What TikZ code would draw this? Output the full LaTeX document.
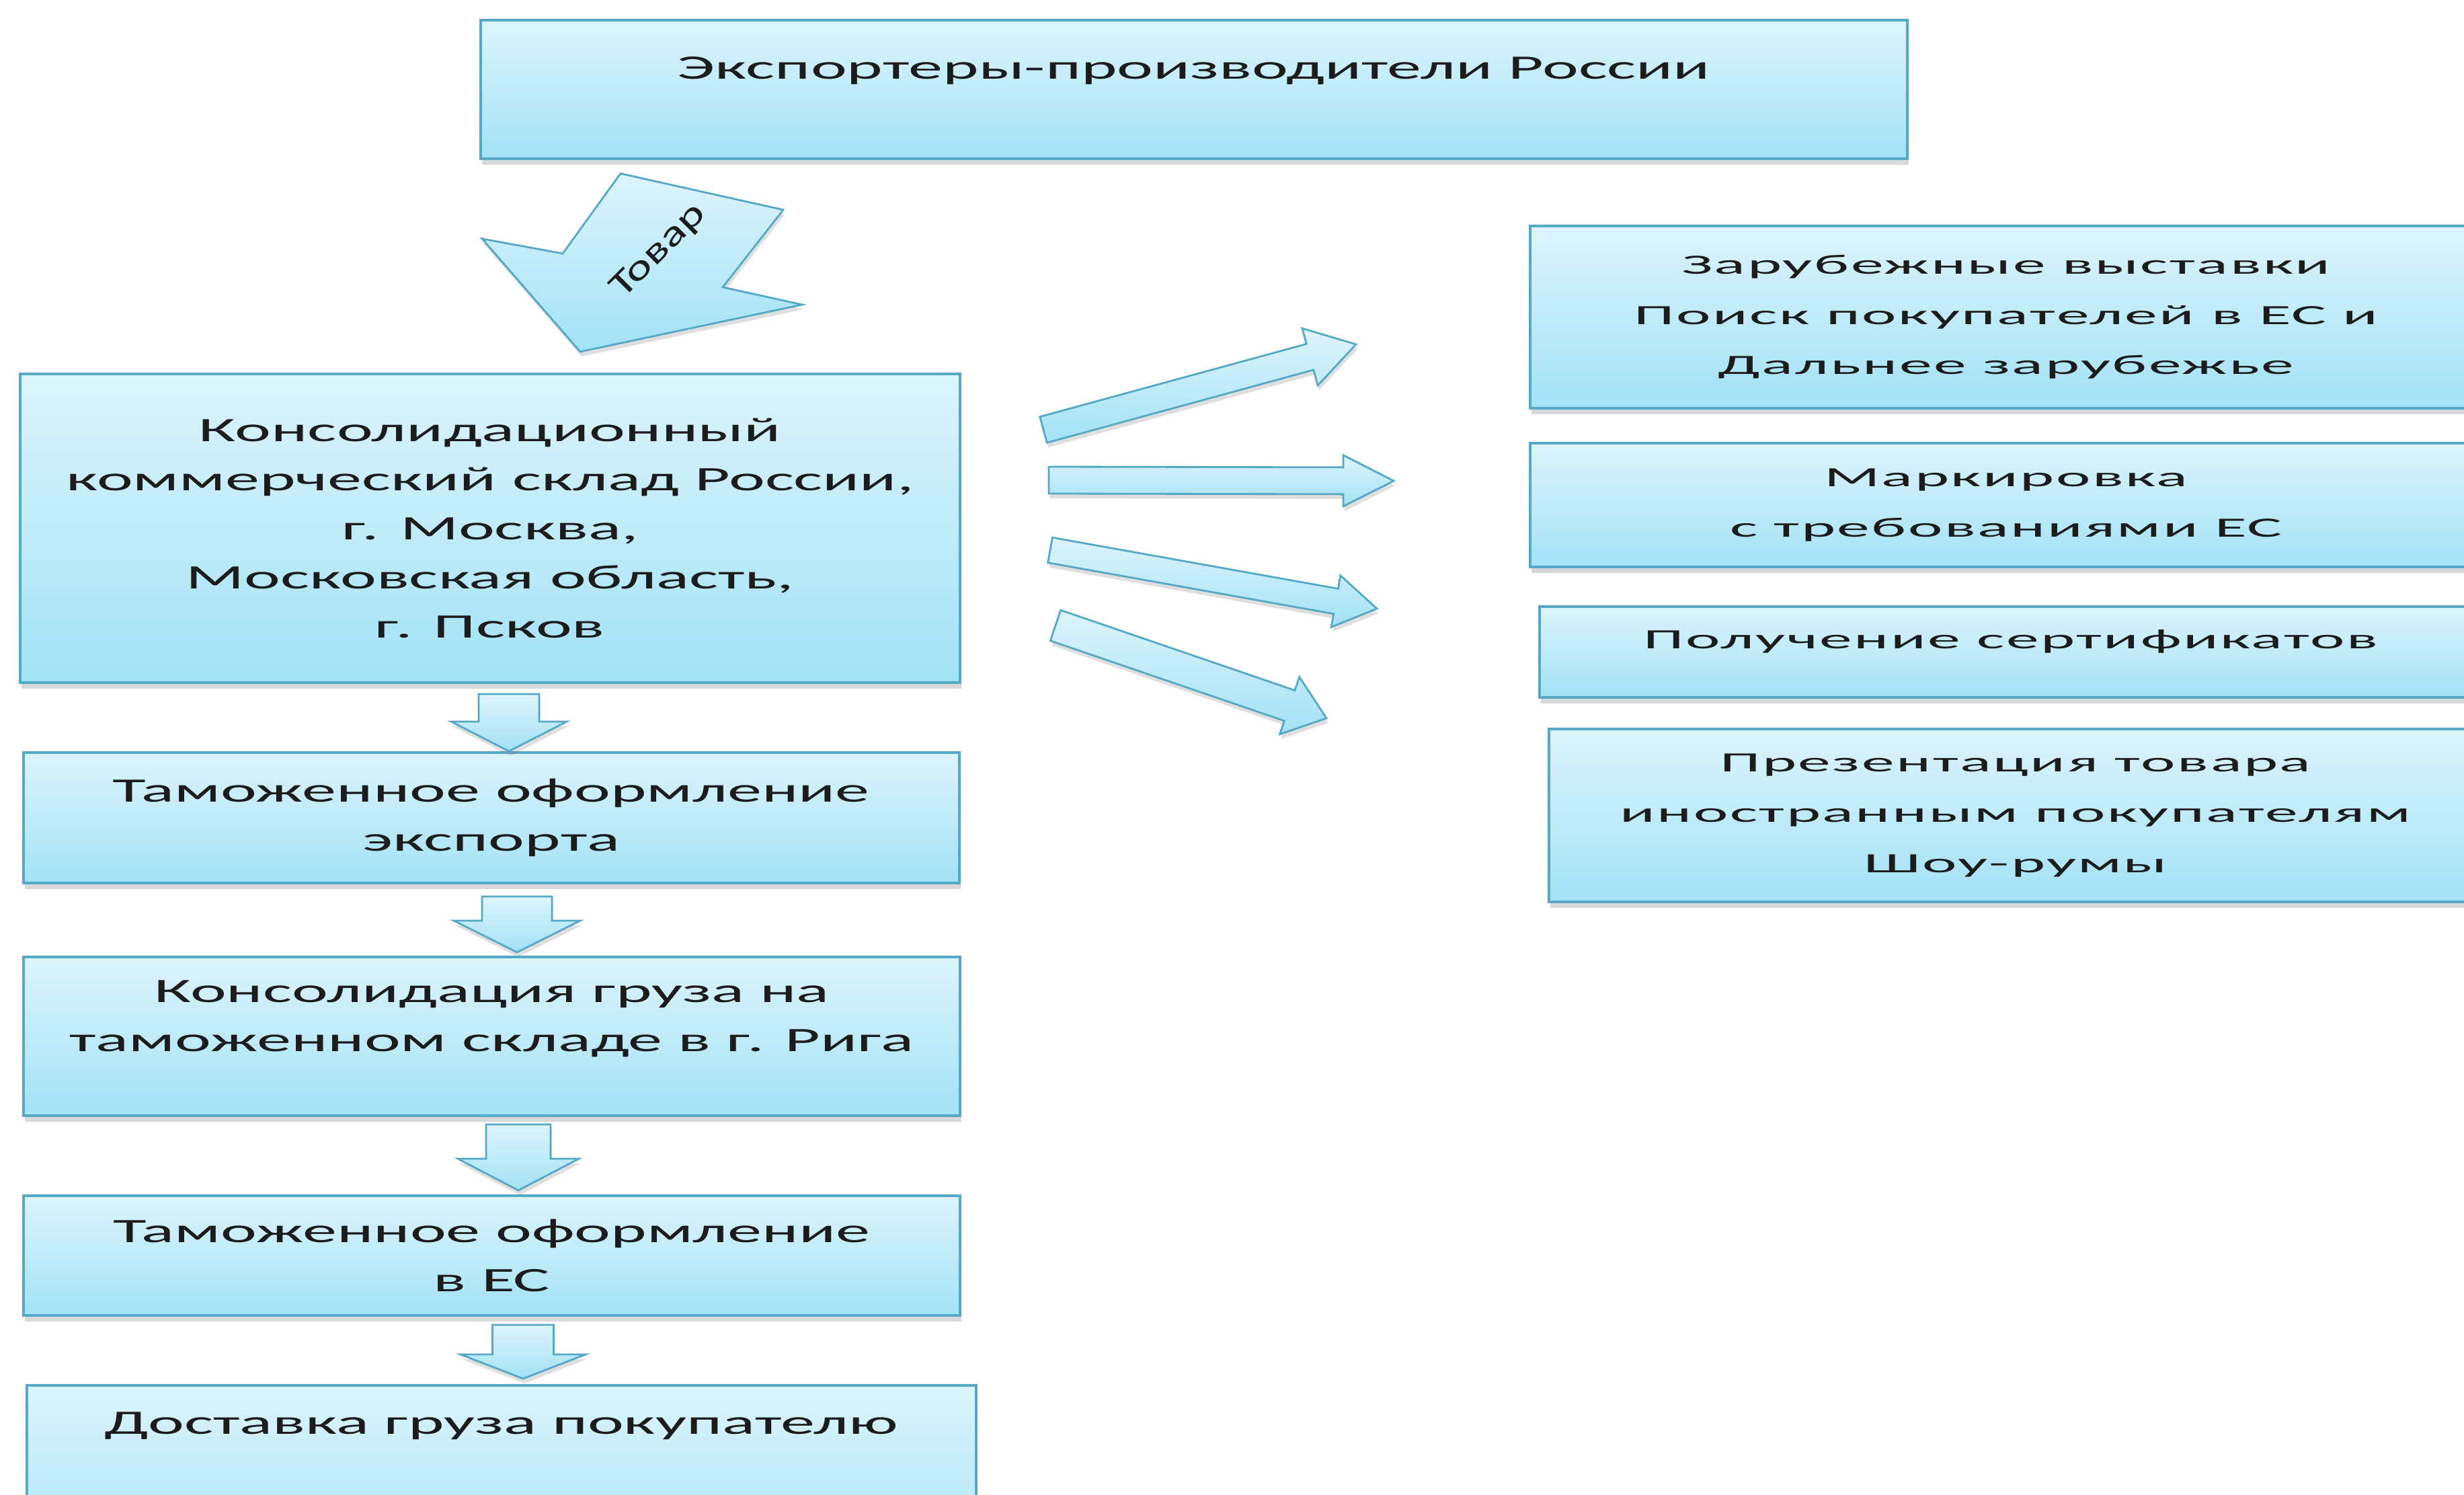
\documentclass[tikz,border=0pt]{standalone}
\usepackage{fontspec}
\setmainfont{Carlito}
\newfontfamily\widefont[FakeStretch=2.0]{Carlito}
\newfontfamily\widerfont[FakeStretch=2.35,LetterSpace=6]{Carlito}
\newfontfamily\goodsfont[FakeStretch=1.4]{Carlito}
\usetikzlibrary{calc,shadows}

\definecolor{boxtop}{HTML}{DDF4FC}
\definecolor{boxbot}{HTML}{A3E2F6}
\definecolor{boxline}{HTML}{56A9C6}
\definecolor{ink}{HTML}{1C1C1C}

% block arrow from (#1s) to (#1e): shaft half width, head half width, head length
\newcommand{\blockarrow}[4]{%
  \coordinate (#1j) at ($(#1e)!#4 cm!(#1s)$);
  \path[flowarrow] ($(#1s)!#2 cm!90:(#1e)$) -- ($(#1j)!#2 cm!90:(#1e)$)
    -- ($(#1j)!#3 cm!90:(#1e)$) -- (#1e) -- ($(#1j)!#3 cm!-90:(#1e)$)
    -- ($(#1j)!#2 cm!-90:(#1e)$) -- ($(#1s)!#2 cm!-90:(#1e)$) -- cycle;
}

\begin{document}
\begin{tikzpicture}[
    box/.style={draw=boxline, line width=1pt, top color=boxtop, bottom color=boxbot,
      drop shadow={shadow xshift=0.6pt, shadow yshift=-2.5pt, opacity=0.3},
      anchor=north west, align=center, inner sep=0pt, text=ink,
      font=\widefont\fontsize{14.5}{20.8}\selectfont},
    rbox/.style={box, font=\widerfont\fontsize{11.8}{21.3}\selectfont},
    flowarrow/.style={draw=boxline, line width=0.8pt, top color=boxtop, bottom color=boxbot,
      drop shadow={shadow xshift=0.6pt, shadow yshift=-2pt, opacity=0.25}}
  ]
    \useasboundingbox (0,0) rectangle (36.65,-22.23);
    \fill[white] (0,0) rectangle (36.65,-22.23);
    \clip (0,0) rectangle (36.65,-22.23);

    % top
    \node[box, minimum width=21.22cm, minimum height=2.06cm, text depth=0.64cm] (export) at (7.13,-0.28) {Экспортеры-производители России};

    % left column
    \node[box, minimum width=13.98cm, minimum height=4.59cm] (warehouse) at (0.28,-5.54)
      {Консолидационный\\коммерческий склад России,\\г. Москва,\\Московская область,\\г. Псков};
    \node[box, minimum width=13.92cm, minimum height=1.94cm] (clearexp) at (0.33,-11.17)
      {Таможенное оформление\\экспорта};
    \node[box, minimum width=13.93cm, minimum height=2.36cm, text depth=0.6cm] (riga) at (0.33,-14.21)
      {Консолидация груза на\\таможенном складе в г. Рига};
    \node[box, minimum width=13.93cm, minimum height=1.78cm] (cleareu) at (0.33,-17.76)
      {Таможенное оформление\\в ЕС};
    \node[box, minimum width=14.12cm, minimum height=3.0cm, text depth=1.88cm] (delivery) at (0.38,-20.58)
      {Доставка груза покупателю};

    % right column
    \node[rbox, minimum width=14.16cm, minimum height=2.71cm] (fairs) at (22.74,-3.34)
      {Зарубежные выставки\\Поиск покупателей в ЕС и\\Дальнее зарубежье};
    \node[rbox, minimum width=14.16cm, minimum height=1.84cm] (marking) at (22.74,-6.57)
      {Маркировка\\с требованиями ЕС};
    \node[rbox, minimum width=14.02cm, minimum height=1.35cm, text depth=0.38cm] (certs) at (22.88,-9.00)
      {Получение сертификатов};
    \node[rbox, minimum width=13.88cm, minimum height=2.57cm] (showroom) at (23.02,-10.82)
      {Презентация товара\\иностранным покупателям\\Шоу-румы};

    % goods arrow
    \path[flowarrow] (9.23,-2.58) -- (8.37,-3.77) -- (7.17,-3.55) -- (8.63,-5.23)
      -- (11.93,-4.53) -- (10.75,-4.27) -- (11.65,-3.12) -- cycle;
    \node[rotate=45, text=ink, font=\goodsfont\fontsize{15}{17}\selectfont] (goods) at (9.80,-3.74) {Товар};

    % down arrows
    \coordinate (d1s) at (7.57,-10.32); \coordinate (d1e) at (7.57,-11.17);
    \coordinate (d2s) at (7.69,-13.33); \coordinate (d2e) at (7.69,-14.16);
    \coordinate (d3s) at (7.71,-16.72); \coordinate (d3e) at (7.71,-17.70);
    \coordinate (d4s) at (7.78,-19.70); \coordinate (d4e) at (7.78,-20.50);
    \blockarrow{d1}{0.45}{0.86}{0.44}
    \blockarrow{d2}{0.52}{0.94}{0.47}
    \blockarrow{d3}{0.48}{0.90}{0.47}
    \blockarrow{d4}{0.455}{0.93}{0.36}

    % arrows to the right
    \coordinate (r1s) at (15.52,-6.39); \coordinate (r1e) at (20.17,-5.12);
    \coordinate (r2s) at (15.60,-7.14); \coordinate (r2e) at (20.73,-7.15);
    \coordinate (r3s) at (15.62,-8.18); \coordinate (r3e) at (20.48,-9.05);
    \coordinate (r4s) at (15.70,-9.30); \coordinate (r4e) at (19.73,-10.68);
    \blockarrow{r1}{0.20}{0.44}{0.71}
    \blockarrow{r2}{0.20}{0.38}{0.75}
    \blockarrow{r3}{0.19}{0.39}{0.62}
    \blockarrow{r4}{0.24}{0.45}{0.58}
\end{tikzpicture}
\end{document}
